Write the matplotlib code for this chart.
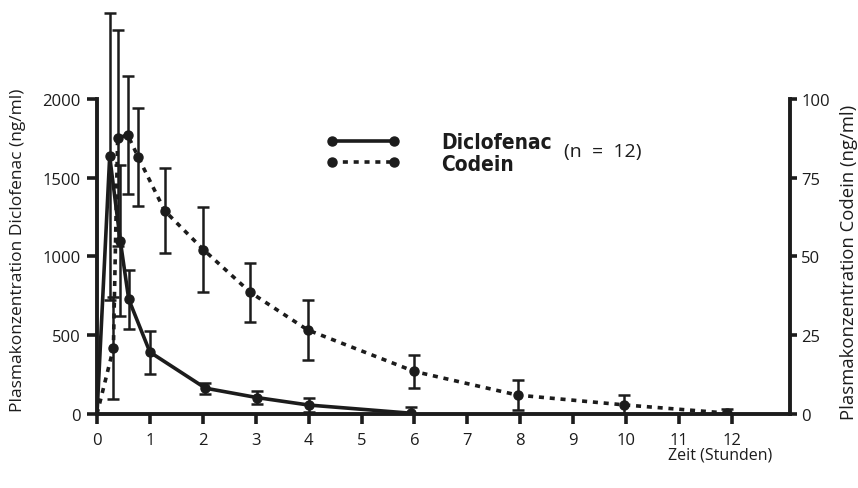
import matplotlib
matplotlib.use("Agg")
import matplotlib.pyplot as plt
from matplotlib.lines import Line2D

plt.rcParams['font.family'] = ['Open Sans', 'DejaVu Sans']

# Diclofenac (ng/ml), left axis
t_diclo = [0, 0.24, 0.44, 0.6, 1.0, 2.05, 3.03, 4.0, 5.93]
diclo = [0, 1635, 1100, 728, 393, 164, 104, 57, 5]
diclo_sd = [0, 913, 480, 188, 136, 34, 42, 42, 40]

# Codein (ng/ml), right axis
t_cod = [0, 0.31, 0.39, 0.58, 0.78, 1.28, 2.01, 2.9, 3.98, 6.0, 7.95, 9.96, 11.9]
cod = [0, 20.9, 87.6, 88.6, 81.5, 64.5, 52.2, 38.6, 26.7, 13.5, 6.0, 2.9, 0.3]
cod_sd = [0, 16.2, 34.3, 18.8, 15.5, 13.5, 13.6, 9.4, 9.5, 5.2, 4.8, 3.2, 1.2]

xticks = list(range(0, 13))
left_ticks = [0, 500, 1000, 1500, 2000]
right_ticks = [0, 25, 50, 75, 100]

ink = '#1c1c1c'

fig = plt.figure(figsize=(8.58, 4.89), dpi=100)
ax = fig.add_axes([97/858, 1-415/489, 693/858, 410/489])
ax2 = ax.twinx()

ax.errorbar(t_diclo, diclo, yerr=diclo_sd, color=ink, lw=2.6, marker='o', ms=6.5,
            markevery=list(range(1, len(t_diclo))), elinewidth=1.8, capsize=4, capthick=1.8)
ax2.errorbar(t_cod, cod, yerr=cod_sd, color=ink, lw=2.6, ls=(0, (1.4, 1.6)), marker='o', ms=6.5,
             markevery=list(range(1, len(t_cod))), elinewidth=1.8, capsize=4, capthick=1.8)

ax.set_xlim(0, 13.1)
ax.set_ylim(0, 2603)
ax2.set_ylim(0, 2603/20)

ax.set_xticks(xticks)
ax.set_yticks(left_ticks)
ax2.set_yticks(right_ticks)

for a in (ax, ax2):
    a.spines['top'].set_visible(False)
    a.tick_params(width=2.6, length=7, labelsize=12, colors=ink, pad=5)
    for s in a.spines.values():
        s.set_linewidth(2.8)
        s.set_color(ink)
ax.tick_params(axis='x', pad=6)
ax2.tick_params(axis='y', length=5, pad=3)
ax.spines['right'].set_visible(False)
ax2.spines['left'].set_visible(False)
ax2.spines['bottom'].set_visible(False)
ax.spines['left'].set_bounds(0, 2000)
ax2.spines['right'].set_bounds(0, 100)

fig.text(18/858, 1-250/489, 'Plasmakonzentration Diclofenac (ng/ml)', rotation=90,
         ha='center', va='center', fontsize=12.5, color=ink)
fig.text(849/858, 1-262/489, 'Plasmakonzentration Codein (ng/ml)', rotation=90,
         ha='center', va='center', fontsize=13.3, color=ink)
fig.text(772/858, 1-456/489, 'Zeit (Stunden)', ha='right', va='center', fontsize=11.5, color=ink)

handles = [Line2D([], [], color=ink, lw=2.6, marker='o', ms=6.5),
           Line2D([], [], color=ink, lw=2.6, ls=(0, (1.4, 1.6)), marker='o', ms=6.5)]
leg = ax.legend(handles, ['Diclofenac', 'Codein'], numpoints=2, frameon=False,
                loc='center left', bbox_to_anchor=((326-97)/693, (415-154)/410),
                borderpad=0, borderaxespad=0,
                handlelength=3.55, handletextpad=2.0, labelspacing=0.05,
                prop={'family': 'DejaVu Sans', 'stretch': 'condensed', 'weight': 'bold', 'size': 15})
for txt in leg.get_texts():
    txt.set_color(ink)
fig.text(564/858, 1-152/489, '(n  =  12)', ha='left', va='center', fontsize=14, color=ink)

fig.savefig('out.png', dpi=100)
